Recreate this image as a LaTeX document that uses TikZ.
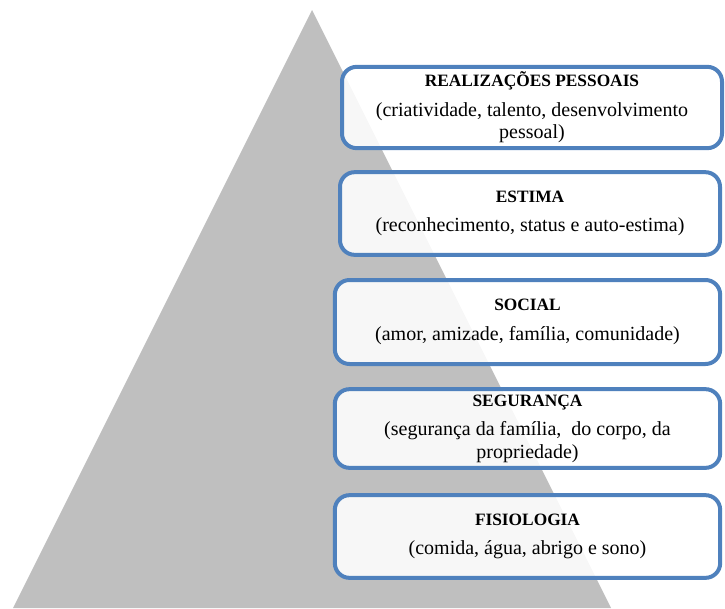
\documentclass[tikz,border=0pt]{standalone}
\usepackage{fontspec}
\setmainfont{Liberation Serif}
\usepackage{xcolor}

\definecolor{boxblue}{HTML}{4F81BD}
\definecolor{pyrgray}{HTML}{BFBFBF}

\tikzset{
    level/.style={draw=boxblue, line width=3pt, rounded corners=11pt,
        fill=white, fill opacity=0.88, text opacity=1, align=center,
        inner sep=0pt, font=\fontsize{15}{17}\selectfont},
}
\newcommand{\lvtitle}[1]{{\fontsize{13}{16}\selectfont\bfseries #1}}

\begin{document}
\begin{tikzpicture}[x=0.75pt, y=-0.75pt]
    \useasboundingbox (0,0) rectangle (725,608);
    \fill[pyrgray] (312,10) -- (13,608) -- (611,608) -- cycle;
    \node[level, minimum width=285pt, minimum height=61pt] (auto) at (532,107.5)
        {\lvtitle{REALIZAÇÕES PESSOAIS}\\[5pt] (criatividade, talento, desenvolvimento\\ pessoal)};
    \node[level, minimum width=285pt, minimum height=62pt] (estima) at (530,213.5)
        {\lvtitle{ESTIMA}\\[5pt] (reconhecimento, status e auto-estima)};
    \node[level, minimum width=289pt, minimum height=63pt] (social) at (527.5,322)
        {\lvtitle{SOCIAL}\\[5pt] (amor, amizade, família, comunidade)};
    \node[level, minimum width=289pt, minimum height=59pt] (seguranca) at (527.5,428.5)
        {\lvtitle{SEGURANÇA}\\[5pt] (segurança da família,\ \ do corpo, da\\ propriedade)};
    \node[level, minimum width=289pt, minimum height=62pt] (fisio) at (527.5,536.5)
        {\lvtitle{FISIOLOGIA}\\[5pt] (comida, água, abrigo e sono)};
\end{tikzpicture}
\end{document}
